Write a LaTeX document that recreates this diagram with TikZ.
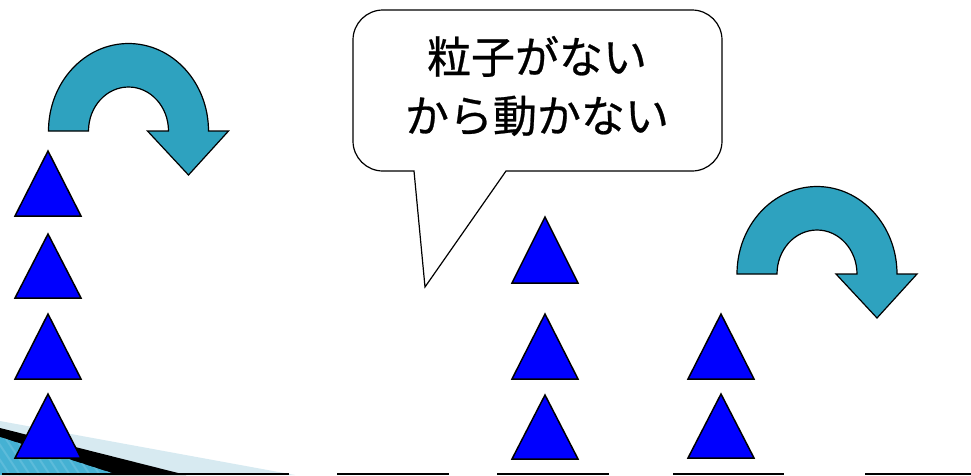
\documentclass[tikz,border=0pt]{standalone}
\usepackage{fontspec}
\newfontfamily\jpfont[FakeBold=0.6]{Noto Sans CJK JP}
\definecolor{arrowteal}{HTML}{2EA2BF}
\definecolor{bandlight}{HTML}{D7EAF1}
\definecolor{bandblue}{HTML}{45B1D3}
\definecolor{stripeblue}{HTML}{5DBBDA}
\tikzset{
  tri/.style={fill=blue, draw=black, line width=1.5pt, line join=miter},
  uturn/.style={fill=arrowteal, draw=black, line width=1.2pt, line join=miter},
  bubble/.style={fill=white, draw=black, line width=1.2pt},
  baseline seg/.style={draw=black, line width=1.6pt},
}
\newcommand\bluetri[3]{% apex x, top y, base y
  \path[tri] (#1,#2) -- (#1+33,#3) -- (#1-33,#3) -- cycle;}
\newcommand\uturnarrow[2]{% centre x, base y
  \path[uturn] (#1-80,#2) arc[start angle=180, end angle=360, x radius=80, y radius=87.5]
    -- (#1+100,#2) -- (#1+60,#2+44) -- (#1+19,#2) -- (#1+40,#2)
    arc[start angle=360, end angle=180, x radius=40, y radius=44] -- cycle;}
\begin{document}
\begin{tikzpicture}[x=1pt, y=-1pt]
\useasboundingbox (0,0) rectangle (971,475);
% decoration bottom left
\fill[bandlight] (0,421) -- (295,475) -- (0,475) -- cycle;
\fill[black] (0,428) -- (186,475) -- (0,475) -- cycle;
\begin{scope}
  \clip (0,437) -- (118,475) -- (0,475) -- cycle;
  \fill[bandblue] (0,430) rectangle (120,475);
  \foreach \s in {-60,-50,...,120}
    \draw[stripeblue, line width=2pt] (\s,430) -- (\s+30,475);
\end{scope}
% ground lines
\coordinate (g1a) at (2,474); \coordinate (g1b) at (289,474);
\coordinate (g2a) at (337,474); \coordinate (g2b) at (449,474);
\coordinate (g3a) at (497,474); \coordinate (g3b) at (609,474);
\coordinate (g4a) at (673,474); \coordinate (g4b) at (784,474);
\coordinate (g5a) at (865,474); \coordinate (g5b) at (971,474);
\draw[baseline seg] (g1a) -- (g1b);
\draw[baseline seg] (g2a) -- (g2b);
\draw[baseline seg] (g3a) -- (g3b);
\draw[baseline seg] (g4a) -- (g4b);
\draw[baseline seg] (g5a) -- (g5b);
% triangles
\bluetri{48}{151}{216}
\bluetri{48}{234}{298}
\bluetri{48}{314}{379}
\bluetri{48}{394}{458}
\bluetri{545}{217}{283}
\bluetri{545}{314}{379}
\bluetri{545}{395}{459}
\bluetri{721}{314}{379}
\bluetri{721}{394}{458}
% curved arrows
\uturnarrow{128.5}{131}
\uturnarrow{817}{274}
% speech bubble
\path[bubble] (414,171) -- (383,171) arc(90:180:30) -- (353,40) arc(180:270:30)
  -- (692,10) arc(270:360:30) -- (722,141) arc(0:90:30)
  -- (506,171) -- (425,287) -- cycle;
\node[font=\jpfont\fontsize{44}{59}\selectfont, align=center, inner sep=0pt] (msg) at (537,86)
  {粒子がない\\から動かない};
\end{tikzpicture}
\end{document}
